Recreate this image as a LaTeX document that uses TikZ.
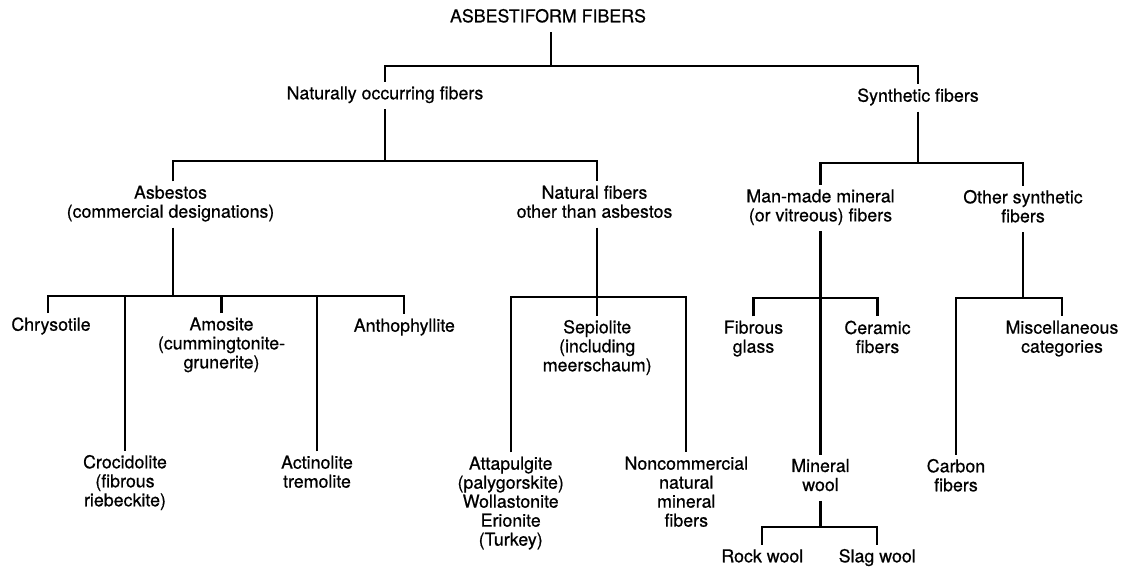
\documentclass[tikz,border=0pt]{standalone}
\usepackage{fontspec}
\setmainfont{TeX Gyre Heros}[FakeBold=0.6]
\begin{document}
\begin{tikzpicture}[x=1pt,y=-1pt,
  lbl/.style={align=center, inner sep=4.3pt, outer sep=0pt, anchor=north,
    font=\fontsize{17.8}{19}\selectfont,
    execute at begin node=\strut, execute at end node=\strut},
  conn/.style={line width=2.3pt, line join=miter}]
\useasboundingbox (0,0) rectangle (1122,569);
% nodes
\node[lbl] (root) at (548,4.7) {ASBESTIFORM FIBERS};
\node[lbl] (nat) at (385,81.7) {Naturally occurring fibers};
\node[lbl] (syn) at (918,84.1) {Synthetic fibers};
\node[lbl] (asb) at (170.5,181.4) {Asbestos\\(commercial designations)};
\node[lbl] (nfo) at (594.5,181.4) {Natural fibers\\other than asbestos};
\node[lbl] (mmm) at (820.5,185.1) {Man-made mineral\\(or vitreous) fibers};
\node[lbl] (osf) at (1023,185.7) {Other synthetic\\fibers};
\node[lbl] (chr) at (51,313.1) {Chrysotile};
\node[lbl] (cro) at (125,450.7) {Crocidolite\\(fibrous\\riebeckite)};
\node[lbl] (amo) at (221.5,313.1) {Amosite\\(cummingtonite-\\grunerite)};
\node[lbl] (act) at (317,451.4) {Actinolite\\tremolite};
\node[lbl] (ant) at (404.3,314.1) {Anthophyllite};
\node[lbl] (sep) at (597.2,315.7) {Sepiolite\\(including\\meerschaum)};
\node[lbl] (att) at (510.7,452.4) {Attapulgite\\(palygorskite)\\Wollastonite\\Erionite\\(Turkey)};
\node[lbl] (non) at (686.3,452.4) {Noncommercial\\natural\\mineral\\fibers};
\node[lbl] (fg) at (753.5,316.4) {Fibrous\\glass};
\node[lbl] (cer) at (877.5,316.4) {Ceramic\\fibers};
\node[lbl] (mw) at (820.5,454.7) {Mineral\\wool};
\node[lbl] (rw) at (762.3,544.7) {Rock wool};
\node[lbl] (sw) at (877.2,544.7) {Slag wool};
\node[lbl] (car) at (956,454.7) {Carbon\\fibers};
\node[lbl] (mis) at (1062,316.4) {Miscellaneous\\categories};
% line positions
\coordinate (rootL) at (551,0);
\coordinate (asbL) at (173,0);
\coordinate (nfoL) at (597,0);
\coordinate (chrL) at (48.3,0);
\coordinate (b0) at (0,65.7);
\coordinate (b1) at (0,161);
\coordinate (b2) at (0,163);
\coordinate (b3) at (0,295.7);
\coordinate (b4) at (0,297.3);
\coordinate (b5) at (0,298);
\coordinate (b6) at (0,298);
\coordinate (b7) at (0,526.7);
% root
\draw[conn] (root.south -| rootL) -- (rootL |- b0);
\draw[conn] (nat.north) -- (nat.north |- b0) -- (syn.north |- b0) -- (syn.north);
% naturally occurring
\draw[conn] (nat.south) -- (nat.south |- b1);
\draw[conn] (asb.north -| asbL) -- (asbL |- b1) -- (nfoL |- b1) -- (nfo.north -| nfoL);
% synthetic
\draw[conn] (syn.south) -- (syn.south |- b2);
\draw[conn] (mmm.north) -- (mmm.north |- b2) -- (osf.north |- b2) -- (osf.north);
% asbestos
\draw[conn] (asb.south -| asbL) -- (asbL |- b3);
\draw[conn] (chr.north -| chrL) -- (chrL |- b3) -- (ant.north |- b3) -- (ant.north);
\draw[conn] (cro.north) -- (cro.north |- b3);
\draw[conn] (amo.north) -- (amo.north |- b3);
\draw[conn] (act.north) -- (act.north |- b3);
% natural fibers other than asbestos
\draw[conn] (nfo.south -| nfoL) -- (sep.north -| nfoL);
\draw[conn] (att.north) -- (att.north |- b4) -- (non.north |- b4) -- (non.north);
% man-made
\draw[conn] (mmm.south) -- (mw.north);
\draw[conn] (fg.north) -- (fg.north |- b5) -- (cer.north |- b5) -- (cer.north);
% mineral wool
\draw[conn] (mw.south) -- (mw.south |- b7);
\draw[conn] (rw.north) -- (rw.north |- b7) -- (sw.north |- b7) -- (sw.north);
% other synthetic
\draw[conn] (osf.south) -- (osf.south |- b6);
\draw[conn] (car.north) -- (car.north |- b6) -- (mis.north |- b6) -- (mis.north);
\end{tikzpicture}
\end{document}
